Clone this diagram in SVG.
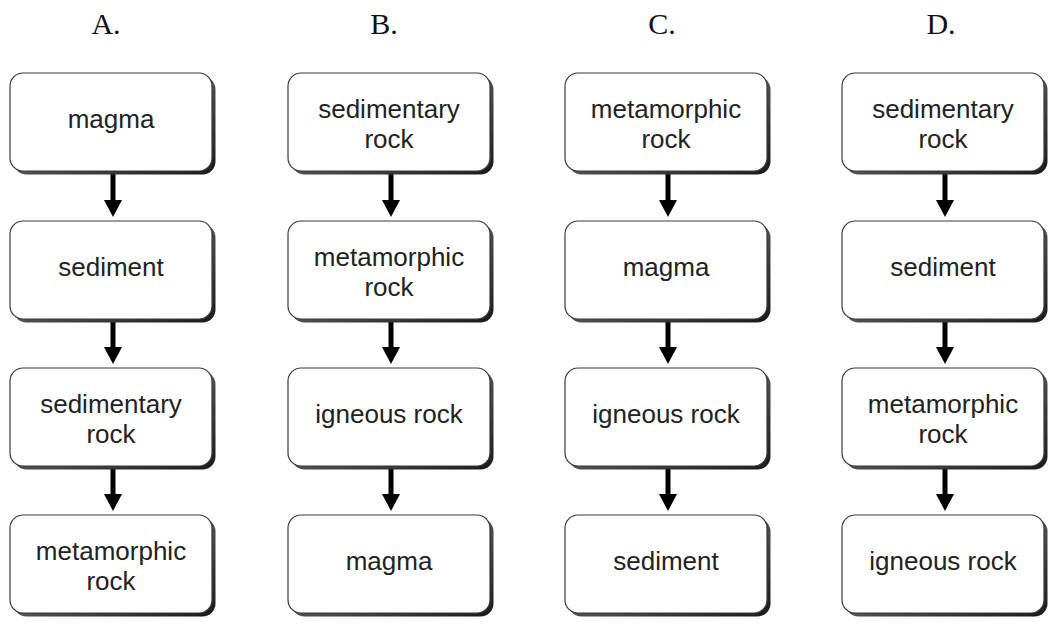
<svg xmlns="http://www.w3.org/2000/svg" width="1054" height="624" viewBox="0 0 1054 624">
<style>
.box{fill:#fff;stroke:#3a3a3a;stroke-width:1.2}
.sh{fill:url(#sg)}
.t{font-family:"Liberation Sans",Arial,sans-serif;font-size:26px;fill:#222;text-anchor:middle}
.h{font-family:"Liberation Serif","Times New Roman",serif;font-size:30px;fill:#111;text-anchor:middle}
.ar{stroke:#000;stroke-width:5;fill:none}
</style>
<defs>
<linearGradient id="sg" x1="0" y1="0" x2="1" y2="1"><stop offset="0" stop-color="#888"/><stop offset="1" stop-color="#1a1a1a"/></linearGradient>
<g id="b"><rect class="sh" x="3.5" y="3.5" width="202" height="98" rx="13"/><rect class="box" x="0" y="0" width="202" height="98" rx="13"/></g>
<g id="a"><line class="ar" x1="0" y1="0" x2="0" y2="30"/><polygon points="-9,27 9,27 0,44" fill="#000"/></g>
</defs>
<text class="h" x="106" y="34">A.</text>
<text class="h" x="384" y="34">B.</text>
<text class="h" x="662" y="34">C.</text>
<text class="h" x="941" y="34">D.</text>
<g id="connectors">
<use href="#a" x="113" y="173"/><use href="#a" x="113" y="320"/><use href="#a" x="113" y="467"/>
<use href="#a" x="391" y="173"/><use href="#a" x="391" y="320"/><use href="#a" x="391" y="467"/>
<use href="#a" x="668" y="173"/><use href="#a" x="668" y="320"/><use href="#a" x="668" y="467"/>
<use href="#a" x="945" y="173"/><use href="#a" x="945" y="320"/><use href="#a" x="945" y="467"/>
</g>
<g id="A1"><use href="#b" x="10" y="73"/><text class="t" x="111" y="128">magma</text></g>
<g id="A2"><use href="#b" x="10" y="221"/><text class="t" x="111" y="276">sediment</text></g>
<g id="A3"><use href="#b" x="10" y="368"/><text class="t" x="111" y="413">sedimentary</text><text class="t" x="111" y="443">rock</text></g>
<g id="A4"><use href="#b" x="10" y="515"/><text class="t" x="111" y="560">metamorphic</text><text class="t" x="111" y="590">rock</text></g>
<g id="B1"><use href="#b" x="288" y="73"/><text class="t" x="389" y="118">sedimentary</text><text class="t" x="389" y="148">rock</text></g>
<g id="B2"><use href="#b" x="288" y="221"/><text class="t" x="389" y="266">metamorphic</text><text class="t" x="389" y="296">rock</text></g>
<g id="B3"><use href="#b" x="288" y="368"/><text class="t" x="389" y="423">igneous rock</text></g>
<g id="B4"><use href="#b" x="288" y="515"/><text class="t" x="389" y="570">magma</text></g>
<g id="C1"><use href="#b" x="565" y="73"/><text class="t" x="666" y="118">metamorphic</text><text class="t" x="666" y="148">rock</text></g>
<g id="C2"><use href="#b" x="565" y="221"/><text class="t" x="666" y="276">magma</text></g>
<g id="C3"><use href="#b" x="565" y="368"/><text class="t" x="666" y="423">igneous rock</text></g>
<g id="C4"><use href="#b" x="565" y="515"/><text class="t" x="666" y="570">sediment</text></g>
<g id="D1"><use href="#b" x="842" y="73"/><text class="t" x="943" y="118">sedimentary</text><text class="t" x="943" y="148">rock</text></g>
<g id="D2"><use href="#b" x="842" y="221"/><text class="t" x="943" y="276">sediment</text></g>
<g id="D3"><use href="#b" x="842" y="368"/><text class="t" x="943" y="413">metamorphic</text><text class="t" x="943" y="443">rock</text></g>
<g id="D4"><use href="#b" x="842" y="515"/><text class="t" x="943" y="570">igneous rock</text></g>
</svg>
